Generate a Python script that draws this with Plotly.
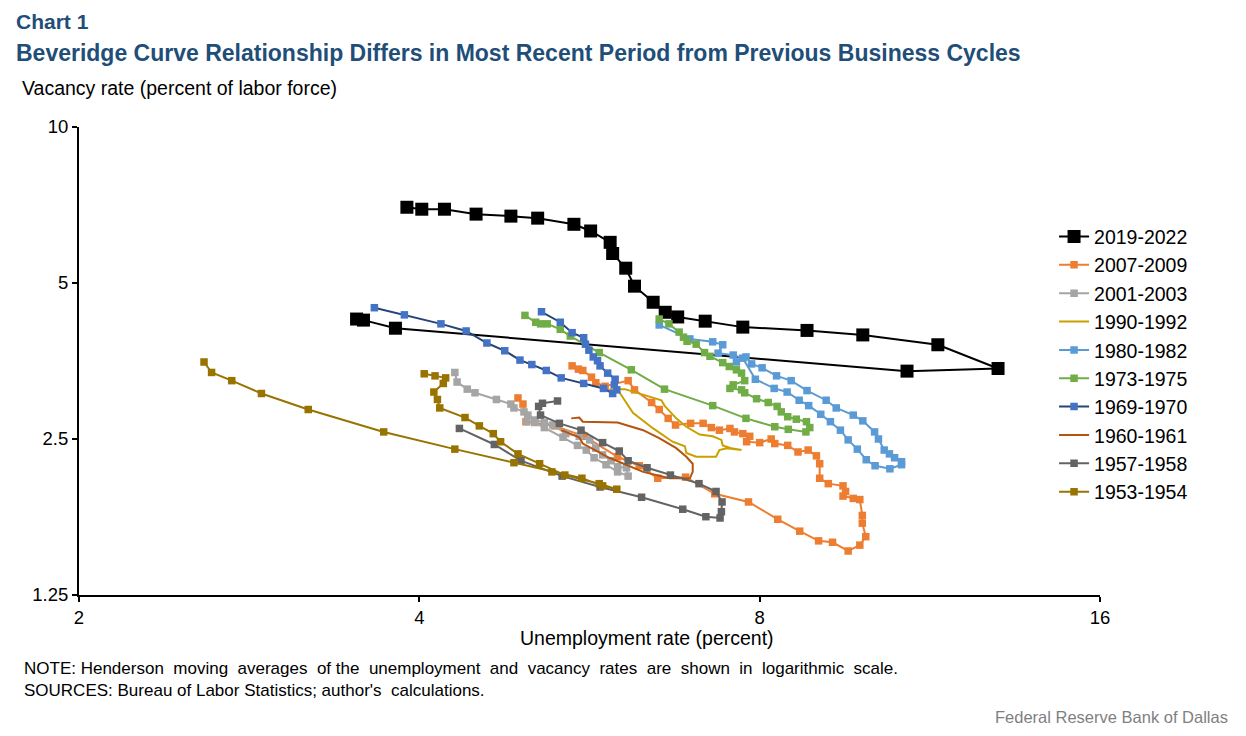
import plotly.graph_objects as go

# Unemployment rate (x) and vacancy rate (y), percent
u_2019 = [3.52, 3.57, 3.81, 10.8, 13.0, 11.5, 9.87, 8.81, 7.73, 7.16, 6.77, 6.60, 6.44,
          6.20, 6.09, 5.93, 5.90, 5.67, 5.48, 5.09, 4.82, 4.49, 4.21, 4.02, 3.90]
v_2019 = [4.26, 4.24, 4.09, 3.38, 3.42, 3.80, 3.97, 4.05, 4.11, 4.22, 4.30, 4.39, 4.59,
          4.93, 5.34, 5.70, 5.99, 6.30, 6.49, 6.67, 6.73, 6.79, 6.94, 6.94, 7.00]

u_2007 = [4.89, 4.94, 4.97, 5.27, 5.60, 5.99, 6.26, 6.50, 6.88, 7.30, 7.82, 8.30, 8.68, 9.02,
          9.28, 9.58, 9.81, 9.93, 9.86, 9.86, 9.81, 9.68, 9.48, 9.53, 9.48, 9.20, 9.04, 9.04,
          8.98, 8.83, 8.65, 8.47, 8.25, 8.19, 8.00, 7.79, 7.84, 7.73, 7.60, 7.53, 7.37, 7.25,
          7.13, 6.95, 6.74, 6.64, 6.52, 6.42, 6.20, 6.12, 5.84, 5.73, 5.68, 5.58, 5.53, 5.46]
v_2007 = [3.00, 2.92, 2.70, 2.65, 2.53, 2.31, 2.22, 2.10, 2.11, 1.96, 1.89, 1.75, 1.66, 1.59,
          1.58, 1.52, 1.56, 1.62, 1.72, 1.78, 1.91, 1.92, 1.94, 1.98, 2.03, 2.05, 2.10, 2.24,
          2.32, 2.38, 2.36, 2.43, 2.45, 2.50, 2.46, 2.47, 2.53, 2.56, 2.58, 2.62, 2.60, 2.63,
          2.68, 2.68, 2.66, 2.74, 2.85, 2.94, 3.11, 3.24, 3.16, 3.21, 3.29, 3.39, 3.41, 3.46]

u_2001 = [4.30, 4.32, 4.41, 4.48, 4.68, 4.82, 4.85, 4.95, 4.99, 5.06, 5.16, 5.25, 5.39, 5.54,
          5.66, 5.73, 5.81, 5.91, 5.99, 6.10, 6.12, 5.99, 5.85, 5.71, 5.62, 5.52, 5.36, 5.16,
          5.06, 4.98]
v_2001 = [3.36, 3.22, 3.12, 3.07, 2.98, 2.92, 2.87, 2.82, 2.78, 2.72, 2.69, 2.66, 2.56, 2.53,
          2.49, 2.40, 2.33, 2.27, 2.21, 2.20, 2.12, 2.16, 2.23, 2.30, 2.38, 2.43, 2.52, 2.63,
          2.69, 2.70]

u_1990 = [5.89, 6.01, 6.18, 6.44, 6.70, 6.87, 6.89, 7.03, 7.32, 7.37, 7.48, 7.65, 7.71,
          7.55, 7.42, 7.40, 7.27, 7.08, 6.89, 6.75, 6.59, 6.55, 6.31, 6.08, 5.94]
v_1990 = [3.12, 3.08, 2.81, 2.62, 2.47, 2.42, 2.35, 2.31, 2.31, 2.38, 2.40, 2.38, 2.38,
          2.40, 2.43, 2.49, 2.53, 2.55, 2.64, 2.74, 2.90, 2.97, 3.04, 3.12, 3.12]

u_1980 = [6.52, 6.94, 7.27, 7.42, 7.35, 7.58, 7.73, 7.93, 8.24, 8.46, 8.67, 8.84, 9.06, 9.24,
          9.43, 9.58, 9.76, 9.94, 10.12, 10.43, 10.68, 10.68, 10.53, 10.42, 10.31, 10.19,
          10.11, 9.87, 9.68, 9.35, 9.16, 8.81, 8.53, 8.28, 8.04, 7.87, 7.78, 7.63]
v_1980 = [4.15, 3.90, 3.85, 3.80, 3.66, 3.63, 3.58, 3.26, 3.13, 3.08, 2.97, 2.90, 2.79, 2.70,
          2.60, 2.49, 2.39, 2.28, 2.22, 2.19, 2.23, 2.26, 2.30, 2.34, 2.38, 2.50,
          2.58, 2.71, 2.78, 2.87, 2.97, 3.10, 3.24, 3.31, 3.43, 3.49, 3.60, 3.52]

u_1973 = [4.96, 5.07, 5.12, 5.19, 5.33, 5.44, 5.77, 6.16, 6.59, 7.27, 7.78, 8.25, 8.48, 8.79,
          8.86, 8.80, 8.62, 8.47, 8.36, 8.29, 8.14, 7.95, 7.76, 7.71, 7.53, 7.58, 7.76, 7.71,
          7.63, 7.52, 7.42, 7.23, 7.15, 7.03, 6.90, 6.85, 6.79, 6.65, 6.52]
v_1973 = [4.33, 4.20, 4.17, 4.17, 4.07, 3.95, 3.67, 3.40, 3.12, 2.90, 2.74, 2.64, 2.61, 2.58,
          2.63, 2.70, 2.73, 2.76, 2.82, 2.89, 2.94, 2.99, 3.07, 3.11, 3.13, 3.18, 3.24, 3.35,
          3.40, 3.45, 3.51, 3.61, 3.67, 3.81, 3.86, 3.93, 4.02, 4.17, 4.26]

u_1969 = [3.65, 3.88, 4.18, 4.40, 4.59, 4.76, 4.91, 5.03, 5.18, 5.34, 5.59, 5.82, 5.93, 5.98,
          5.95, 5.96, 5.87, 5.78, 5.75, 5.70, 5.65, 5.61, 5.59, 5.46, 5.33, 5.13]
v_1969 = [4.48, 4.34, 4.17, 4.04, 3.83, 3.70, 3.55, 3.48, 3.39, 3.28, 3.20, 3.13, 3.06, 3.11,
          3.18, 3.26, 3.35, 3.46, 3.54, 3.60, 3.71, 3.81, 3.92, 4.01, 4.20, 4.40]

u_1960 = [5.34, 5.54, 5.58, 5.89, 6.31, 6.66, 6.94, 6.98, 6.98, 6.89, 6.75, 6.52, 6.31, 5.99,
          5.58, 5.54, 5.45]
v_1960 = [2.60, 2.52, 2.45, 2.30, 2.16, 2.10, 2.10, 2.16, 2.24, 2.31, 2.40, 2.51, 2.60, 2.69,
          2.70, 2.75, 2.74]

u_1957 = [4.34, 4.66, 4.92, 5.35, 5.78, 6.29, 6.84, 7.17, 7.38, 7.40, 7.41, 7.32, 7.07, 6.67,
          6.36, 6.12, 6.01, 5.81, 5.56, 5.32, 5.12, 5.10, 5.14, 5.30]
v_1957 = [2.62, 2.44, 2.27, 2.12, 2.02, 1.93, 1.83, 1.77, 1.76, 1.81, 1.89, 1.98, 2.05, 2.13,
          2.20, 2.27, 2.37, 2.46, 2.60, 2.68, 2.78, 2.89, 2.93, 2.96]

u_1953 = [2.58, 2.62, 2.73, 2.90, 3.19, 3.72, 4.30, 4.85, 5.24, 5.57, 5.81, 5.98, 5.77, 5.38,
          5.11, 4.89, 4.72, 4.65, 4.52, 4.39, 4.17, 4.15, 4.12, 4.20, 4.22, 4.13, 4.04]
v_1953 = [3.52, 3.36, 3.24, 3.06, 2.85, 2.58, 2.39, 2.25, 2.16, 2.10, 2.03, 2.00, 2.05, 2.13,
          2.24, 2.34, 2.47, 2.56, 2.65, 2.75, 2.87, 2.98, 3.08, 3.20, 3.28, 3.31, 3.34]

FONT = "Liberation Sans, Arial, sans-serif"

series = [
    ("2019-2022", u_2019, v_2019, "#000000", "#000000", 13, True),
    ("2007-2009", u_2007, v_2007, "#ED7D31", "#ED7D31", 7.5, True),
    ("2001-2003", u_2001, v_2001, "#A5A5A5", "#A5A5A5", 7.5, True),
    ("1990-1992", u_1990, v_1990, "#C9A000", "#C9A000", 0, False),
    ("1980-1982", u_1980, v_1980, "#5B9BD5", "#5B9BD5", 7.5, True),
    ("1973-1975", u_1973, v_1973, "#70AD47", "#70AD47", 7.5, True),
    ("1969-1970", u_1969, v_1969, "#264478", "#4472C4", 7.5, True),
    ("1960-1961", u_1960, v_1960, "#B5530F", "#B5530F", 0, False),
    ("1957-1958", u_1957, v_1957, "#636363", "#636363", 7.5, True),
    ("1953-1954", u_1953, v_1953, "#997300", "#997300", 7.5, True),
]

fig = go.Figure()
for name, u, v, lc, mc, ms, has_marker in series:
    fig.add_trace(go.Scatter(
        x=u, y=v, name=name,
        mode="lines+markers" if has_marker else "lines",
        line=dict(color=lc, width=2),
        marker=dict(symbol="square", size=ms, color=mc),
    ))

fig.update_layout(
    width=1246, height=736,
    margin=dict(l=71, r=154, t=119, b=149),
    paper_bgcolor="white", plot_bgcolor="white",
    font=dict(family=FONT, size=18.5, color="black"),
    showlegend=True,
    legend=dict(x=0.955, y=0.807, xanchor="left", yanchor="top",
                font=dict(size=19.5, color="black"),
                bgcolor="rgba(0,0,0,0)"),
    xaxis=dict(type="log", range=[0.30103, 1.20412], tickvals=[2, 4, 8, 16],
               ticktext=["2", "4", "8", "16"], showgrid=False, zeroline=False,
               showline=True, linecolor="black", linewidth=2,
               ticks="outside", ticklen=5, tickcolor="black", tickwidth=1.5),
    yaxis=dict(type="log", range=[0.09691, 1.0], tickvals=[1.25, 2.5, 5, 10],
               ticktext=["1.25", "2.5", "5", "10"], showgrid=False, zeroline=False,
               showline=True, linecolor="black", linewidth=2,
               ticks="outside", ticklen=5, tickcolor="black", tickwidth=1.5),
)

title_color = "#1F4E79"
sp = "&nbsp; "
note_text = sp.join(["NOTE: Henderson", "moving", "averages", "of the", "unemployment", "and",
                     "vacancy", "rates", "are", "shown", "in", "logarithmic", "scale."])
source_text = "SOURCES: Bureau of Labor Statistics; author's" + sp + "calculations."
notes = [
    dict(text="<b>Chart 1</b>", x=-0.0637, y=1.2543, size=21, color=title_color,
         xanchor="left", yanchor="top"),
    dict(text="<b>Beveridge Curve Relationship Differs in Most Recent Period from Previous Business Cycles</b>",
         x=-0.0637, y=1.1581, size=23, color=title_color, xanchor="left", yanchor="middle"),
    dict(text="Vacancy rate (percent of labor force)", x=-0.0578, y=1.0833, size=19.5,
         color="black", xanchor="left", yanchor="middle"),
    dict(text="Unemployment rate (percent)", x=0.5563, y=-0.0919, size=19.5, color="black",
         xanchor="center", yanchor="middle"),
    dict(text=note_text, x=-0.0558, y=-0.156, size=17, color="black", xanchor="left",
         yanchor="middle"),
    dict(text=source_text, x=-0.0558, y=-0.203, size=17, color="black", xanchor="left",
         yanchor="middle"),
    dict(text="Federal Reserve Bank of Dallas", x=1.1273, y=-0.2607, size=16.5,
         color="#7F7F7F", xanchor="right", yanchor="middle"),
]
for n in notes:
    fig.add_annotation(text=n["text"], x=n["x"], y=n["y"], xref="paper", yref="paper",
                       xanchor=n["xanchor"], yanchor=n["yanchor"], showarrow=False,
                       font=dict(family=FONT, size=n["size"], color=n["color"]))

fig.write_html("out.html")
